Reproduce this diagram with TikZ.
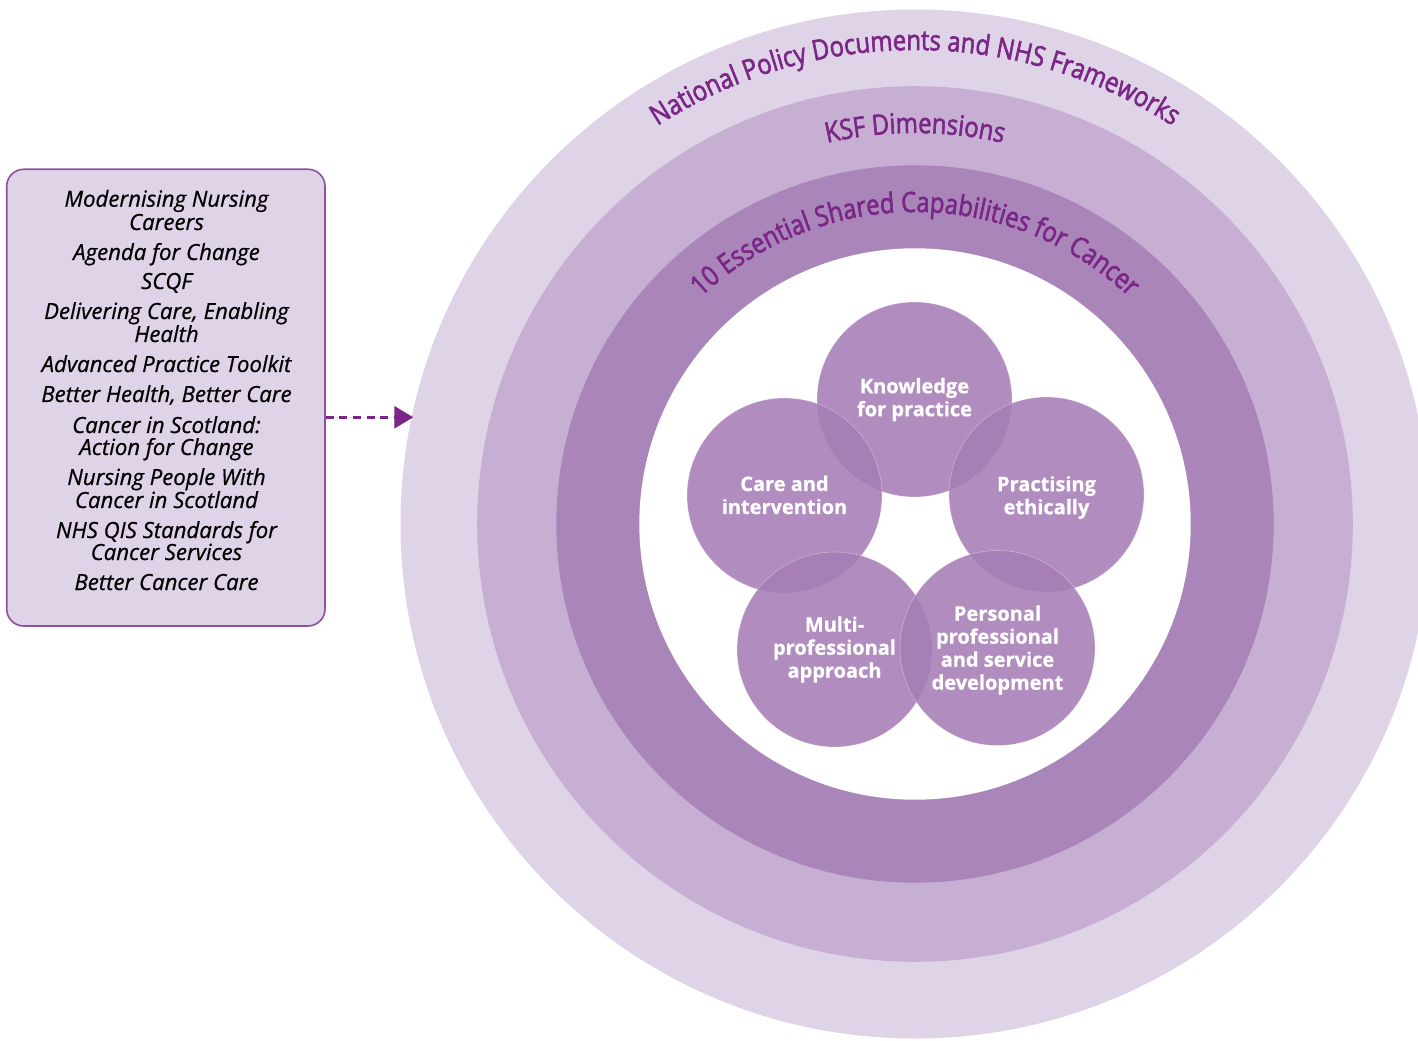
\documentclass[tikz,border=0pt]{standalone}
\usepackage{fontspec}
\setmainfont{Open Sans}
\newfontfamily\arcfam[FakeStretch=0.85, RawFeature={embolden=2}]{Open Sans}
\newfontfamily\listfam[RawFeature={embolden=0.6}]{Open Sans}
\newfontfamily\petalfam[RawFeature={embolden=0.7}]{Open Sans}
\usetikzlibrary{decorations.text,arrows.meta}
\definecolor{ringA}{RGB}{223,211,232}
\definecolor{ringB}{RGB}{199,175,212}
\definecolor{ringC}{RGB}{169,133,186}
\definecolor{petal}{RGB}{166,125,182}
\definecolor{tpurple}{RGB}{122,38,134}
\definecolor{boxedge}{RGB}{142,80,160}
\newcommand{\arcfont}{\arcfam\fontsize{14pt}{16pt}\selectfont}
\begin{document}
\begin{tikzpicture}[x=0.5pt,y=0.5pt,
  petalc/.style={circle, fill=petal, fill opacity=0.87, draw=white, draw opacity=0.35, line width=0.3pt, minimum size=97.5pt, inner sep=0pt},
  petaltext/.style={text=white, align=center, font=\petalfam\bfseries\fontsize{10pt}{11.5pt}\selectfont},
  listbox/.style={draw=boxedge, line width=0.8pt, fill=ringA, rounded corners=8.5pt, minimum width=159.15pt, minimum height=228.35pt, inner sep=0pt},
  listline/.style={anchor=base, inner sep=0pt, font=\listfam\itshape\fontsize{11.1pt}{11.5pt}\selectfont},
  arrowline/.style={draw=tpurple, line width=1.4pt, dash pattern=on 4pt off 2.8pt, -{Triangle[length=9.5pt,width=11pt]}, fill=tpurple},
  arctext/.style={decorate, decoration={text along path, text align=center, text color=tpurple}}
]
\useasboundingbox (0,0) rectangle (1418,1040);
\coordinate (C) at (915,516);
% concentric rings
\fill[ringA] (C) circle[radius=514.5];
\fill[ringB] (C) circle[radius=437.8];
\fill[ringC] (C) circle[radius=358.7];
\fill[white] (C) circle[radius=275.7];
% ring titles
\path[arctext, decoration={text={|\arcfont|National Policy Documents and NHS Frameworks}}]
  (C) ++(180:474) arc[start angle=180, end angle=0, radius=474];
\path[arctext, decoration={text={|\arcfont|KSF Dimensions}}]
  (C) ++(180:391) arc[start angle=180, end angle=0, radius=391];
\path[arctext, decoration={text={|\arcfont|10 Essential Shared Capabilities for Cancer}}]
  (C) ++(180:312) arc[start angle=180, end angle=0, radius=312];
% capability circles
\node[petalc] (know) at (914.5,640.5) {};
\node[petalc] (care) at (784.5,544.5) {};
\node[petalc] (prac) at (1046.5,545.5) {};
\node[petalc] (multi) at (834.5,390.5) {};
\node[petalc] (pers) at (997.5,392) {};
\node[petaltext] (knowT) at (914.5,640.5) {Knowledge\\for practice};
\node[petaltext] (careT) at (784.5,545) {Care and\\intervention};
\node[petaltext] (pracT) at (1046.5,542.5) {Practising\\ethically};
\node[petaltext] (multiT) at (834.5,390.5) {Multi-\\professional\\approach};
\node[petaltext] (persT) at (997.5,390) {Personal\\professional\\and service\\development};
% list box
\node[listbox] (box) at (165.85,642.35) {};
\foreach \t/\yy [count=\i] in {Modernising Nursing/833.3, Careers/810, Agenda for Change/780, SCQF/751,
  {Delivering Care, Enabling}/721, Health/698, Advanced Practice Toolkit/668, {Better Health, Better Care}/638,
  Cancer in Scotland:/607, Action for Change/585, Nursing People With/555, Cancer in Scotland/532,
  NHS QIS Standards for/502, Cancer Services/480, Better Cancer Care/450}
  \node[listline] (l\i) at (166.5,\yy) {\t};
% arrow
\coordinate (tip) at (413.3,622.7);
\draw[arrowline] (box.east |- tip) -- (tip);
\end{tikzpicture}
\end{document}
